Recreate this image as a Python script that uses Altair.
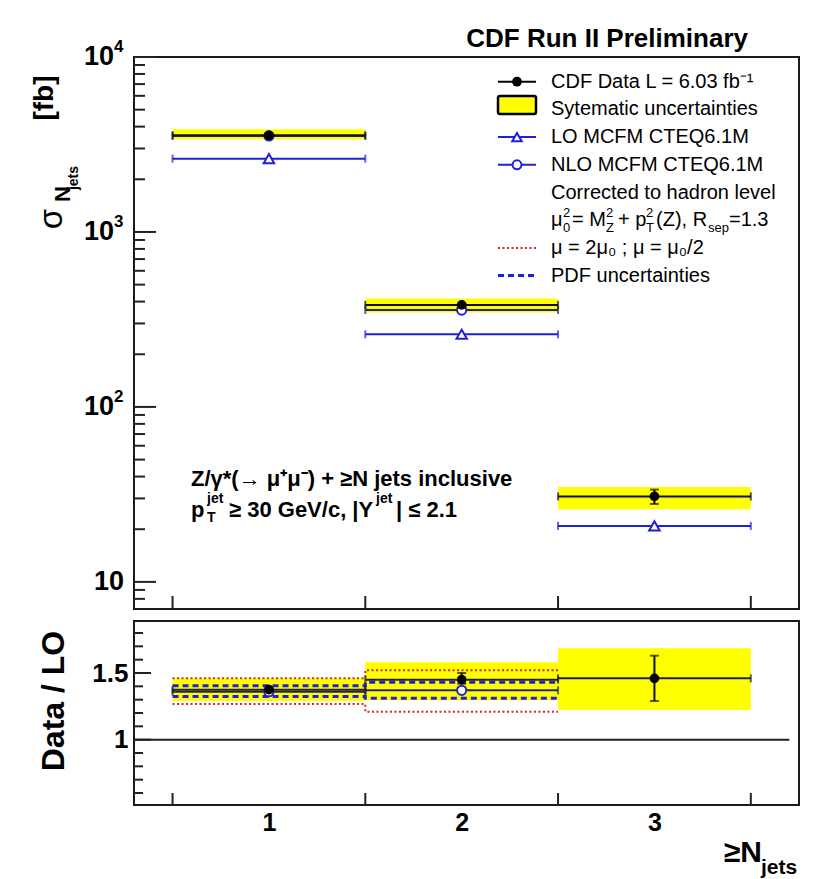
import altair as alt
import pandas as pd

FONT = "Liberation Sans"
BLUE = "#2020d8"
NAVY = "#23236e"
RED = "#e02020"
YELLOW = "#ffff00"

# ---------------- data ----------------
bin_centers = [1, 2, 3]
bin_low = [0.5, 1.5, 2.5]
bin_high = [1.5, 2.5, 3.5]

data_xsec = [3570, 383, 30.8]
data_stat_low = [3535, 376, 27.9]
data_stat_high = [3605, 390, 33.7]
data_sys_low = [3390, 346, 26.0]
data_sys_high = [3860, 416, 34.9]
lo_xsec = [2625, 260, 20.9]
nlo_bins = [1, 2]
nlo_xsec = [3540, 358]

ratio_data = [1.375, 1.45, 1.46]
ratio_stat_low = [1.365, 1.42, 1.29]
ratio_stat_high = [1.385, 1.50, 1.63]
ratio_sys_low = [1.29, 1.295, 1.222]
ratio_sys_high = [1.46, 1.58, 1.685]
ratio_nlo = [1.36, 1.37]
scale_up = [1.46, 1.52]
scale_down = [1.267, 1.21]
pdf_up = [1.405, 1.43]
pdf_down = [1.323, 1.31]
unity = 1.0

top_major_ticks = [10, 100, 1000, 10000]
top_minor_ticks = [8, 9] + [m * 10 for m in range(2, 10)] + [m * 100 for m in range(2, 10)] + [m * 1000 for m in range(2, 10)]
top_label_values = [100, 1000, 10000]
top_label_exps = ["2", "3", "4"]
bot_major_ticks = [1.0, 1.5]
bot_minor_ticks = [0.6, 0.7, 0.8, 0.9, 1.1, 1.2, 1.3, 1.4, 1.6, 1.7, 1.8]
bin_edges = bin_low + [bin_high[-1]]

legend_labels = ["CDF Data  L =  6.03 fb\u207b\u00b9", "Sytematic uncertainties", "LO MCFM CTEQ6.1M",
                 "NLO MCFM CTEQ6.1M", "Corrected to hadron level", "",
                 "\u03bc = 2\u03bc\u2080 ; \u03bc = \u03bc\u2080/2", "PDF uncertainties"]

# ---------------- scales ----------------
W, HT, HB = 665, 552, 184
X = alt.Scale(domain=[0.3, 3.75], nice=False, zero=False)
YT = alt.Scale(type="log", domain=[7, 10000], nice=False)
YB = alt.Scale(domain=[0.51, 1.89], nice=False, zero=False)
XB_AXIS = alt.Axis(values=[1, 2, 3], title=None, ticks=False, domain=False, grid=False,
                   labelFont=FONT, labelFontSize=25, labelFontWeight="bold", labelPadding=5,
                   format="d", labelColor="black")
YB_AXIS = alt.Axis(values=[1, 1.5], title=None, ticks=False, domain=False, grid=False,
                   labelFont=FONT, labelFontSize=26, labelFontWeight="bold", labelPadding=6,
                   format="~g", labelColor="black")

top_df = pd.DataFrame(dict(n=bin_centers, lo_e=bin_low, hi_e=bin_high, val=data_xsec,
                           slo=data_stat_low, shi=data_stat_high, ylo=data_sys_low, yhi=data_sys_high,
                           lo=lo_xsec))
nlo_df = pd.DataFrame(dict(n=nlo_bins, lo_e=bin_low[:2], hi_e=bin_high[:2], val=nlo_xsec))
bot_df = pd.DataFrame(dict(n=bin_centers, lo_e=bin_low, hi_e=bin_high, val=ratio_data,
                           slo=ratio_stat_low, shi=ratio_stat_high, ylo=ratio_sys_low, yhi=ratio_sys_high))
nlo_r_df = pd.DataFrame(dict(n=nlo_bins, lo_e=bin_low[:2], hi_e=bin_high[:2], val=ratio_nlo))
step_df = pd.DataFrame(dict(x=bin_low[:2] + [bin_high[1]],
                            su=scale_up + [scale_up[-1]], sd=scale_down + [scale_down[-1]],
                            pu=pdf_up + [pdf_up[-1]], pd_=pdf_down + [pdf_down[-1]]))


def hbar(df, yf, ys, color, w, xa, ya, cap=8):
    base = alt.Chart(df)
    line = base.mark_rule(color=color, strokeWidth=w).encode(
        x=alt.X("lo_e:Q", scale=X, axis=xa), x2="hi_e:Q",
        y=alt.Y(f"{yf}:Q", scale=ys, axis=ya))
    caps = base.transform_fold(["lo_e", "hi_e"], as_=["side", "edge"]).mark_tick(
        orient="vertical", color=color, thickness=w, size=cap).encode(
        x=alt.X("edge:Q", scale=X, axis=xa), y=alt.Y(f"{yf}:Q", scale=ys, axis=ya))
    return [line, caps]


def vbar(df, lof, hif, ys, color, w, xa, ya, cap=9):
    base = alt.Chart(df)
    line = base.mark_rule(color=color, strokeWidth=w).encode(
        x=alt.X("n:Q", scale=X, axis=xa), y=alt.Y(f"{lof}:Q", scale=ys, axis=ya), y2=f"{hif}:Q")
    caps = base.transform_fold([lof, hif], as_=["side", "v"]).mark_tick(
        orient="horizontal", color=color, thickness=w, size=cap).encode(
        x=alt.X("n:Q", scale=X, axis=xa), y=alt.Y("v:Q", scale=ys, axis=ya))
    return [line, caps]


def txt(s, x, y, size, bold=False, align="left", baseline="middle", angle=0, color="black"):
    return alt.Chart(pd.DataFrame({"t": [s]})).mark_text(
        align=align, baseline=baseline, fontSize=size, font=FONT,
        fontWeight="bold" if bold else "normal", color=color, angle=angle).encode(
        x=alt.value(x), y=alt.value(y), text="t:N")


# ---------------- top panel ----------------
top_layers = []
top_layers.append(alt.Chart(top_df).mark_rect(color=YELLOW).encode(
    x=alt.X("lo_e:Q", scale=X, axis=None), x2="hi_e:Q",
    y=alt.Y("ylo:Q", scale=YT, axis=None), y2="yhi:Q"))
top_layers += hbar(top_df, "lo", YT, BLUE, 2, None, None)
top_layers.append(alt.Chart(top_df).mark_point(shape="triangle-up", filled=True, fill="white", stroke=BLUE,
                                               strokeWidth=2, size=110, opacity=1).encode(
    x=alt.X("n:Q", scale=X, axis=None), y=alt.Y("lo:Q", scale=YT, axis=None)))
top_layers += hbar(nlo_df, "val", YT, NAVY, 2, None, None)
top_layers.append(alt.Chart(nlo_df).mark_point(shape="circle", filled=True, fill="white", stroke=BLUE,
                                               strokeWidth=2, size=85, opacity=1).encode(
    x=alt.X("n:Q", scale=X, axis=None), y=alt.Y("val:Q", scale=YT, axis=None)))
top_layers += hbar(top_df, "val", YT, "#111111", 2, None, None)
top_layers += vbar(top_df, "slo", "shi", YT, "#111111", 2, None, None)
top_layers.append(alt.Chart(top_df).mark_point(shape="circle", filled=True, color="black", size=95, opacity=1).encode(
    x=alt.X("n:Q", scale=X, axis=None), y=alt.Y("val:Q", scale=YT, axis=None)))

# inner ticks
top_layers.append(alt.Chart(pd.DataFrame({"v": top_major_ticks})).mark_rule(color="#222", strokeWidth=2).encode(
    y=alt.Y("v:Q", scale=YT, axis=None), x=alt.value(0), x2=alt.value(22)))
top_layers.append(alt.Chart(pd.DataFrame({"v": top_minor_ticks})).mark_rule(color="#222", strokeWidth=2).encode(
    y=alt.Y("v:Q", scale=YT, axis=None), x=alt.value(0), x2=alt.value(11)))
top_layers.append(alt.Chart(pd.DataFrame({"v": bin_edges})).mark_rule(color="#222", strokeWidth=2).encode(
    x=alt.X("v:Q", scale=X, axis=None), y=alt.value(HT - 13), y2=alt.value(HT)))

# y tick labels
lab_df = pd.DataFrame({"v": top_label_values, "e": top_label_exps, "b": ["10"] * 3})
top_layers.append(alt.Chart(lab_df).mark_text(align="right", baseline="middle", font=FONT, fontSize=27,
                                              fontWeight="bold", color="black").encode(
    y=alt.Y("v:Q", scale=YT, axis=None), x=alt.value(-20), text="b:N"))
top_layers.append(alt.Chart(lab_df).mark_text(align="left", baseline="middle", font=FONT, fontSize=17,
                                              fontWeight="bold", color="black", dy=-10).encode(
    y=alt.Y("v:Q", scale=YT, axis=None), x=alt.value(-20), text="e:N"))
top_layers.append(alt.Chart(pd.DataFrame({"v": [top_major_ticks[0]], "b": ["10"]})).mark_text(
    align="right", baseline="middle", font=FONT, fontSize=27, fontWeight="bold", color="black").encode(
    y=alt.Y("v:Q", scale=YT, axis=None), x=alt.value(-10), text="b:N"))

# y title
top_layers.append(txt("[fb]", -89, 41, 28, bold=True, align="center", angle=270))
top_layers.append(txt("\u03c3", -82, 162, 33, bold=False, align="center", angle=270))
top_layers.append(txt("N", -71, 137, 22, bold=True, align="center", angle=270))
top_layers.append(txt("jets", -60, 121, 14, bold=True, align="center", angle=270))

# header
top_layers.append(txt("CDF Run II Preliminary", 614, -18, 26, bold=True, align="right"))

# legend
LX0, LX1, LXC, LT = 364, 402, 383, 417
rows = [24.7, 52.4, 80.1, 107.8, 135.5, 163.2, 190.9, 218.6]
for i, s in enumerate(legend_labels):
    if s:
        top_layers.append(txt(s, LT, rows[i], 20))
# symbols
top_layers.append(alt.Chart(pd.DataFrame({"a": [0]})).mark_rule(color="black", strokeWidth=2).encode(
    x=alt.value(LX0), x2=alt.value(LX1), y=alt.value(rows[0])))
top_layers.append(alt.Chart(pd.DataFrame({"a": [0]})).mark_point(shape="circle", filled=True, color="black",
                                                                 size=95, opacity=1).encode(
    x=alt.value(LXC), y=alt.value(rows[0])))
top_layers.append(alt.Chart(pd.DataFrame({"a": [0]})).mark_rect(fill=YELLOW, stroke="black", strokeWidth=2.5,
                                                                cornerRadius=2).encode(
    x=alt.value(LX0), x2=alt.value(LX1), y=alt.value(39), y2=alt.value(57)))
top_layers.append(alt.Chart(pd.DataFrame({"a": [0]})).mark_rule(color=BLUE, strokeWidth=2).encode(
    x=alt.value(LX0), x2=alt.value(LX1), y=alt.value(rows[2])))
top_layers.append(alt.Chart(pd.DataFrame({"a": [0]})).mark_point(shape="triangle-up", filled=True, fill="white",
                                                                 stroke=BLUE, strokeWidth=2, size=90, opacity=1).encode(
    x=alt.value(LXC), y=alt.value(rows[2])))
top_layers.append(alt.Chart(pd.DataFrame({"a": [0]})).mark_rule(color=BLUE, strokeWidth=2).encode(
    x=alt.value(LX0), x2=alt.value(LX1), y=alt.value(rows[3])))
top_layers.append(alt.Chart(pd.DataFrame({"a": [0]})).mark_point(shape="circle", filled=True, fill="white",
                                                                 stroke=BLUE, strokeWidth=2, size=80, opacity=1).encode(
    x=alt.value(LXC), y=alt.value(rows[3])))
top_layers.append(alt.Chart(pd.DataFrame({"a": [0]})).mark_rule(color=RED, strokeWidth=2, strokeDash=[2, 2.5]).encode(
    x=alt.value(LX0), x2=alt.value(LX1), y=alt.value(rows[6])))
top_layers.append(alt.Chart(pd.DataFrame({"a": [0]})).mark_rule(color=BLUE, strokeWidth=3, strokeDash=[6, 4]).encode(
    x=alt.value(LX0), x2=alt.value(LX1), y=alt.value(rows[7])))
# mu0 row pieces
r5 = rows[5]
top_layers += [
    txt("\u03bc", 417, r5, 20),
    txt("2", 429, r5 - 7, 13), txt("0", 429, r5 + 8, 13),
    txt("= M", 438, r5, 20),
    txt("2", 472, r5 - 7, 13), txt("Z", 472, r5 + 8, 13),
    txt("+ p", 484, r5, 20),
    txt("2", 512, r5 - 7, 13), txt("T", 512, r5 + 8, 13),
    txt("(Z), R", 522, r5, 20),
    txt("sep", 574, r5 + 8, 13),
    txt("=1.3", 595, r5, 20),
]

# annotation
top_layers += [
    txt("Z/\u03b3*(\u2192 \u03bc\u207a\u03bc\u207b) + \u2265N jets inclusive", 57, 429, 22, bold=True, baseline="alphabetic"),
    txt("p", 57, 460, 22, bold=True, baseline="alphabetic"),
    txt("jet", 73, 446, 14, bold=True, baseline="alphabetic"),
    txt("T", 73, 465, 14, bold=True, baseline="alphabetic"),
    txt("\u2265 30 GeV/c, |Y", 95, 460, 22, bold=True, baseline="alphabetic"),
    txt("jet", 242, 446, 14, bold=True, baseline="alphabetic"),
    txt("| \u2264 2.1", 262, 460, 22, bold=True, baseline="alphabetic"),
]

top = alt.layer(*top_layers).properties(width=W, height=HT)

# ---------------- bottom panel ----------------
XA, YA = XB_AXIS, YB_AXIS
bl = []
bl.append(alt.Chart(bot_df).mark_rect(color=YELLOW).encode(
    x=alt.X("lo_e:Q", scale=X, axis=XA), x2="hi_e:Q",
    y=alt.Y("ylo:Q", scale=YB, axis=YA), y2="yhi:Q"))
for f, col, dash, w in [("su", RED, [2, 2.5], 2), ("sd", RED, [2, 2.5], 2),
                        ("pu", BLUE, [6, 4], 3), ("pd_", BLUE, [6, 4], 3)]:
    bl.append(alt.Chart(step_df).mark_line(interpolate="step-after", color=col, strokeWidth=w,
                                           strokeDash=dash).encode(
        x=alt.X("x:Q", scale=X, axis=XA), y=alt.Y(f"{f}:Q", scale=YB, axis=YA)))
bl.append(alt.Chart(pd.DataFrame({"x0": [X.domain[0]], "x1": [3.7], "y": [unity]})).mark_rule(
    color="#222", strokeWidth=2).encode(
    x=alt.X("x0:Q", scale=X, axis=XA), x2="x1:Q", y=alt.Y("y:Q", scale=YB, axis=YA)))
bl += hbar(nlo_r_df, "val", YB, NAVY, 2, XA, YA)
bl.append(alt.Chart(nlo_r_df).mark_point(shape="circle", filled=True, fill="white", stroke=BLUE,
                                         strokeWidth=2, size=85, opacity=1).encode(
    x=alt.X("n:Q", scale=X, axis=XA), y=alt.Y("val:Q", scale=YB, axis=YA)))
bl += hbar(bot_df, "val", YB, "#222222", 2, XA, YA)
bl += vbar(bot_df, "slo", "shi", YB, "#111111", 2, XA, YA)
bl.append(alt.Chart(bot_df).mark_point(shape="circle", filled=True, color="black", size=95, opacity=1).encode(
    x=alt.X("n:Q", scale=X, axis=XA), y=alt.Y("val:Q", scale=YB, axis=YA)))
# ticks
bl.append(alt.Chart(pd.DataFrame({"v": bot_major_ticks})).mark_rule(color="#222", strokeWidth=2).encode(
    y=alt.Y("v:Q", scale=YB, axis=YA), x=alt.value(0), x2=alt.value(17)))
bl.append(alt.Chart(pd.DataFrame({"v": bot_minor_ticks})).mark_rule(color="#222", strokeWidth=2).encode(
    y=alt.Y("v:Q", scale=YB, axis=YA), x=alt.value(0), x2=alt.value(9)))
bl.append(alt.Chart(pd.DataFrame({"v": bin_edges})).mark_rule(color="#222", strokeWidth=2).encode(
    x=alt.X("v:Q", scale=X, axis=XA), y=alt.value(HB - 12), y2=alt.value(HB)))
# titles
bl.append(txt("Data / LO", -80, 80, 32, bold=True, align="center", angle=270))
bl.append(txt("\u2265N", 628, 241, 30, bold=True, align="right", baseline="alphabetic"))
bl.append(txt("jets", 627, 253, 21, bold=True, align="left", baseline="alphabetic"))

bottom = alt.layer(*bl).properties(width=W, height=HB)

chart = alt.vconcat(top, bottom, spacing=9).properties(
    padding={"left": 22, "top": 17, "right": 5, "bottom": 0}, background="white"
).configure_view(stroke="#1a1a1a", strokeWidth=2).configure_axis(grid=False)

chart.save("out.html", embed_options={"renderer": "svg", "actions": False})
